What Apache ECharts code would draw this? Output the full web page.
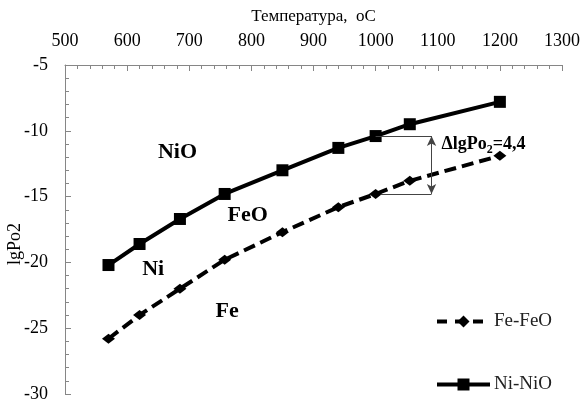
<!DOCTYPE html>
<html>
<head>
<meta charset="utf-8">
<script src="https://cdn.jsdelivr.net/npm/echarts@6/dist/echarts.min.js"></script>
<style>
html,body{margin:0;padding:0;background:#fff;}
#c{width:586px;height:403px;}
</style>
</head>
<body>
<div id="c"></div>
<script>
// Data
var temperatures = [570, 620, 685, 757, 850, 940, 1000, 1055, 1200];
var feFeO = [-25.8, -24.0, -22.0, -19.8, -17.7, -15.8, -14.8, -13.8, -11.9];
var niNiO = [-20.2, -18.6, -16.7, -14.8, -13.0, -11.3, -10.4, -9.5, -7.8];
var seriesNames = ['Fe-FeO', 'Ni-NiO'];
var xTitle = 'Температура,  оС';
var yTitle = 'lgPo2';
var regionLabels = [
  {text: 'NiO', t: 681, v: -11.6},
  {text: 'FeO', t: 794, v: -16.45},
  {text: 'Ni', t: 642, v: -20.5},
  {text: 'Fe', t: 761, v: -23.7}
];
var deltaAt = 1000;
var deltaTop = -10.4;
var deltaBottom = -14.8;
var deltaArrowT = 1090;
var deltaText = {t: 1106, v: -11.06};

var FONT = '"Liberation Serif", "Times New Roman", serif';

function pairs(xs, ys) { return xs.map(function (x, i) { return [x, ys[i]]; }); }

var chart = echarts.init(document.getElementById('c'), null, {renderer: 'canvas'});
var option = {
  animation: false,
  backgroundColor: '#ffffff',
  grid: {left: 65, right: 24, top: 65, bottom: 8, containLabel: false},
  xAxis: {
    type: 'value', position: 'top', min: 500, max: 1300, interval: 100,
    name: xTitle, nameLocation: 'middle', nameGap: 40,
    nameTextStyle: {fontFamily: FONT, fontSize: 17, color: '#000'},
    axisLine: {show: true, lineStyle: {color: '#868686', width: 1}},
    axisTick: {show: true, inside: true, length: 6, lineStyle: {color: '#868686'}},
    minorTick: {show: true, splitNumber: 5, length: 4, lineStyle: {color: '#868686'}},
    splitLine: {show: false},
    axisLabel: {fontFamily: FONT, fontSize: 18, color: '#000', margin: 15,
      formatter: function (v) { return String(v); }}
  },
  yAxis: {
    type: 'value', min: -30, max: -5, interval: 5,
    axisLine: {show: true, lineStyle: {color: '#868686', width: 1}},
    axisTick: {show: true, inside: true, length: 6, lineStyle: {color: '#868686'}},
    minorTick: {show: true, splitNumber: 5, length: 4, lineStyle: {color: '#868686'}},
    splitLine: {show: false},
    axisLabel: {fontFamily: FONT, fontSize: 18, color: '#000', margin: 17}
  },
  legend: {
    orient: 'vertical', left: 435, top: 312, padding: 0, itemGap: 44, itemWidth: 53, itemHeight: 15,
    textStyle: {fontFamily: FONT, fontSize: 19, color: '#222', padding: [0, 0, 0, -1]},
    data: [
      {name: seriesNames[0], lineStyle: {width: 4, type: [10, 8]}, itemStyle: {color: '#000'}},
      {name: seriesNames[1], lineStyle: {width: 4, type: 'solid'}, itemStyle: {color: '#000'}}
    ]
  },
  series: [
    {
      name: seriesNames[0], type: 'line', data: pairs(temperatures, feFeO),
      symbol: 'diamond', symbolSize: [13, 10], showSymbol: true,
      lineStyle: {color: '#000', width: 4, type: [12, 6]},
      itemStyle: {color: '#000'},
      z: 3
    },
    {
      name: seriesNames[1], type: 'line', data: pairs(temperatures, niNiO),
      symbol: 'rect', symbolSize: 12, showSymbol: true,
      lineStyle: {color: '#000', width: 4},
      itemStyle: {color: '#000'},
      z: 4,
      markLine: {
        silent: true, animation: false, symbol: ['none', 'none'],
        label: {show: false},
        lineStyle: {color: '#444', width: 1, type: 'solid'},
        data: [
          [{coord: [deltaAt, deltaTop]}, {coord: [deltaArrowT, deltaTop]}],
          [{coord: [deltaAt + 8, deltaBottom]}, {coord: [deltaArrowT, deltaBottom]}],
          [{coord: [deltaArrowT, deltaTop], symbol: 'arrow', symbolSize: [7, 10]},
           {coord: [deltaArrowT, deltaBottom], symbol: 'arrow', symbolSize: [7, 10]}]
        ]
      }
    }
  ]
};
chart.setOption(option);

var graphics = [];
regionLabels.forEach(function (r) {
  var p = chart.convertToPixel({gridIndex: 0}, [r.t, r.v]);
  graphics.push({
    type: 'text', x: p[0], y: p[1],
    style: {text: r.text, fontFamily: FONT, fontSize: 22, fontWeight: 'bold', fill: '#000',
      align: 'center', verticalAlign: 'middle'}
  });
});
var dp = chart.convertToPixel({gridIndex: 0}, [deltaText.t, deltaText.v]);
graphics.push({
  type: 'text', x: dp[0], y: dp[1],
  style: {
    text: 'ΔlgPo{sub|2}=4,4', fontFamily: FONT, fontSize: 18, fontWeight: 'bold', fill: '#000',
    align: 'left', verticalAlign: 'middle',
    rich: {sub: {fontFamily: FONT, fontSize: 12, fontWeight: 'bold', fill: '#000', padding: [10, 0, 0, 0]}}
  }
});
var yp = chart.convertToPixel({gridIndex: 0}, [500, -18.6]);
graphics.push({
  type: 'text', x: 15, y: yp[1], rotation: Math.PI / 2,
  style: {text: yTitle, fontFamily: FONT, fontSize: 18, fill: '#000', align: 'center', verticalAlign: 'middle'}
});
chart.setOption({graphic: graphics});
</script>
</body>
</html>
